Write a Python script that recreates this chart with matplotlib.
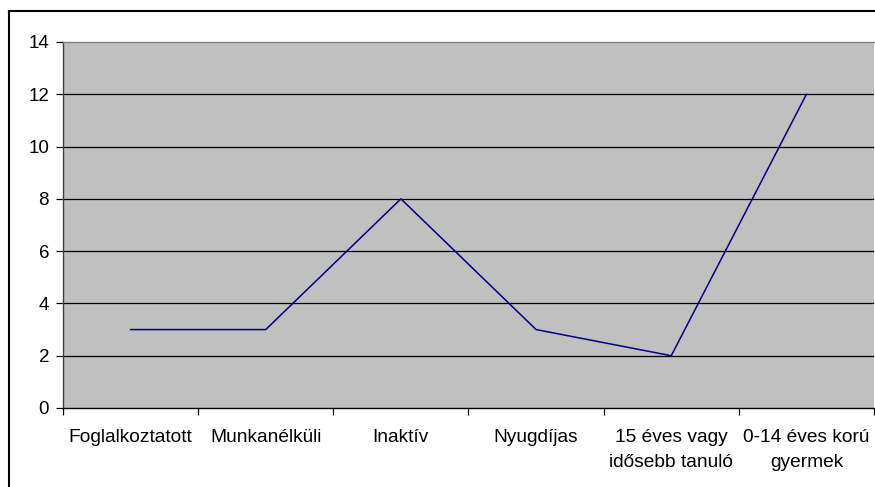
import matplotlib
matplotlib.use("Agg")
from matplotlib import pyplot as plt
from matplotlib.lines import Line2D
import numpy as np

categories = ["Foglalkoztatott", "Munkanélküli", "Inaktív", "Nyugdíjas",
              "15 éves vagy\nidősebb tanuló", "0-14 éves korú\ngyermek"]
values = [3, 3, 8, 3, 2, 12]
yticks = [0, 2, 4, 6, 8, 10, 12, 14]

plt.rcParams['font.family'] = ['Liberation Sans', 'DejaVu Sans']

fig = plt.figure(figsize=(8.75, 4.87), dpi=100)
W, H = 875, 487
ax = fig.add_axes([63 / W, 1 - 408 / H, (874 - 63) / W, (408 - 42) / H])
ax.set_facecolor("#c0c0c0")

x = np.arange(len(categories))
ax.plot(x, values, color="#000080", lw=1.1, zorder=3)

ax.set_xlim(-0.5, len(categories) - 0.5)
ax.set_ylim(0, 14)
ax.set_yticks(yticks)
ax.set_yticklabels([str(v) for v in yticks], fontsize=13.5)
for v in yticks[1:-1]:
    ax.axhline(v, color="black", lw=0.9, zorder=1)

ax.set_xticks(x)
ax.set_xticklabels(categories, fontsize=13.8, linespacing=1.6)
ax.set_xticks(np.arange(len(categories) + 1) - 0.5, minor=True)
ax.tick_params(axis="x", which="major", length=0, pad=15)
ax.tick_params(axis="x", which="minor", length=5, width=0.9, color="black", direction="out")
ax.tick_params(axis="y", length=5, width=0.9, color="black", pad=5)

for s in ["top", "right"]:
    ax.spines[s].set_color("#808080")
    ax.spines[s].set_linewidth(1.0)
ax.spines["right"].set_visible(False)
ax.spines["left"].set_color("#404040")
ax.spines["bottom"].set_color("black")
ax.spines["left"].set_linewidth(1.0)
ax.spines["bottom"].set_linewidth(1.0)

# chart border
fig.add_artist(Line2D([8.5 / W, 8.5 / W], [0, 1 - 11 / H], color="black", lw=1.5))
fig.add_artist(Line2D([8.5 / W, 1], [1 - 11 / H, 1 - 11 / H], color="black", lw=1.5))

fig.savefig("out.png", dpi=100)
